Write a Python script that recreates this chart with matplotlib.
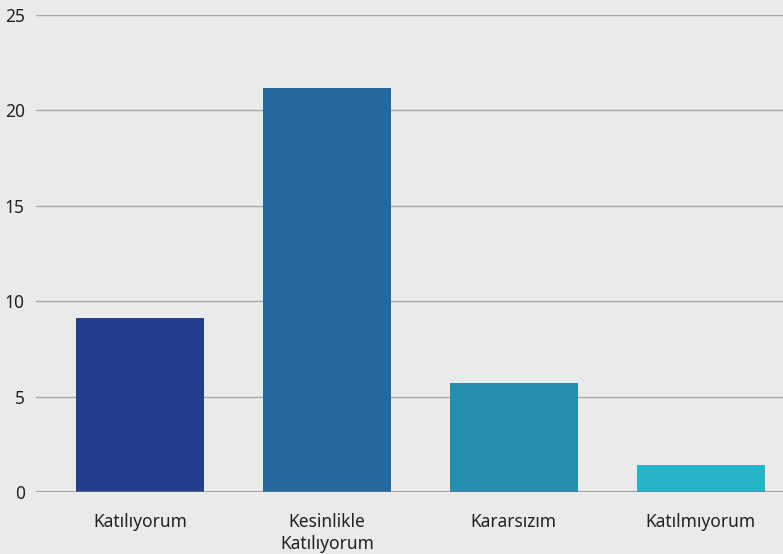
import matplotlib
matplotlib.use("Agg")
import matplotlib.pyplot as plt

categories = ["Katılıyorum", "Kesinlikle\nKatılıyorum", "Kararsızım", "Katılmıyorum"]
values = [9.1, 21.2, 5.7, 1.4]
colors = ["#243d8c", "#2468a0", "#258eae", "#26b5c8"]
yticks = [0, 5, 10, 15, 20, 25]

plt.rcParams['font.family'] = ['Noto Sans', 'DejaVu Sans']
bg = "#e9eaea"
fig = plt.figure(figsize=(7.83, 5.54), dpi=100, facecolor=bg)
ax = fig.add_axes([36/783, 62/554, 747/783, 477/554])
ax.set_facecolor(bg)

x = list(range(len(categories)))
ax.bar(x, values, width=0.685, color=colors, zorder=2)
ax.set_xlim(-0.556, 3.44)
ax.set_ylim(0, 25)
ax.set_yticks(yticks)
ax.set_yticklabels([str(t) for t in yticks], fontsize=12.5, color="#222222")
ax.set_xticks(x)
ax.set_xticklabels(categories, fontsize=12.5, color="#222222", linespacing=1.3)
ax.tick_params(axis='both', length=0)
ax.tick_params(axis='y', pad=8)
ax.tick_params(axis='x', pad=15)
for t in yticks[1:]:
    ax.axhline(t, color="#a8a8a8", linewidth=1.0, zorder=1)
ax.axhline(0, color="#7a7a7a", linewidth=1.8, zorder=3, alpha=0.85)
for s in ax.spines.values():
    s.set_visible(False)

fig.savefig("out.png", dpi=100, facecolor=bg)
